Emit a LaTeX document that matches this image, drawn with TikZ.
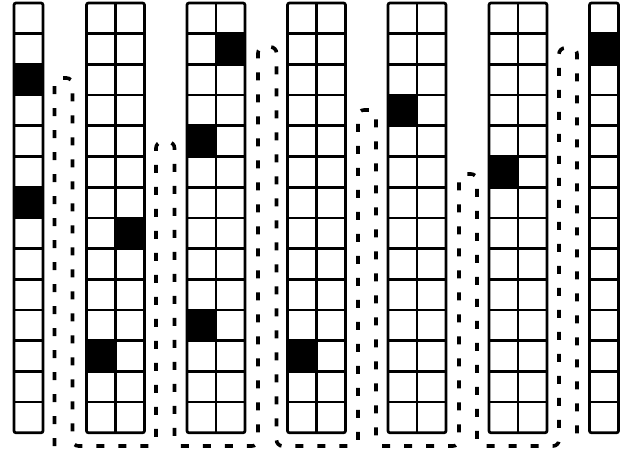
\documentclass[tikz,border=0pt]{standalone}
\usepackage{xcolor}
\tikzset{
  cell/.style={draw=black, line width=2.7pt},
  hit/.style={fill=black},
  route/.style={draw=black, line width=3.6pt, dash pattern=on 8pt off 14pt,
                rounded corners=6pt}
}

\begin{document}
\begin{tikzpicture}[x=1pt,y=-1pt]
  \useasboundingbox (0,0) rectangle (630,455);

  % black cells: left of strip / sub column / row
  \foreach \cx/\sc/\rw in {14/0/2, 14/0/6, 86.5/1/7, 86.5/0/11, 187/1/1, 187/0/4,
                           187/0/10, 287.5/0/11, 388/0/3, 489/0/5, 589.5/0/1}
    \fill[hit] ({\cx+\sc*29},{3+\rw*30.7}) rectangle +(29,30.7);

  % strips of 14 rows
  \foreach \cx/\n in {14/1, 86.5/2, 187/2, 287.5/2, 388/2, 489/2, 589.5/1}{
    \foreach \rw in {1,...,13}
      \draw[cell] (\cx,{3+\rw*30.7}) -- +({\n*29},0);
    \ifnum\n=2 \draw[cell] ({\cx+29},3) -- +(0,429.8); \fi
    \draw[cell, rounded corners=2pt] (\cx,3) rectangle +({\n*29},429.8);
  }

  % dotted route between the strips
  \draw[route] (54.5,446) -- (54.5,78) -- (72.5,78) -- (72.5,446)
    -- (156,446) -- (156,142) -- (174.5,142) -- (174.5,446)
    -- (258,446) -- (258,47) -- (276.5,47) -- (276.5,446)
    -- (358,446) -- (358,110) -- (376,110) -- (376,446)
    -- (459,446) -- (459,174) -- (477,174) -- (477,446)
    -- (559,446) -- (559,48) -- (577,48) -- (577,446);
\end{tikzpicture}
\end{document}
